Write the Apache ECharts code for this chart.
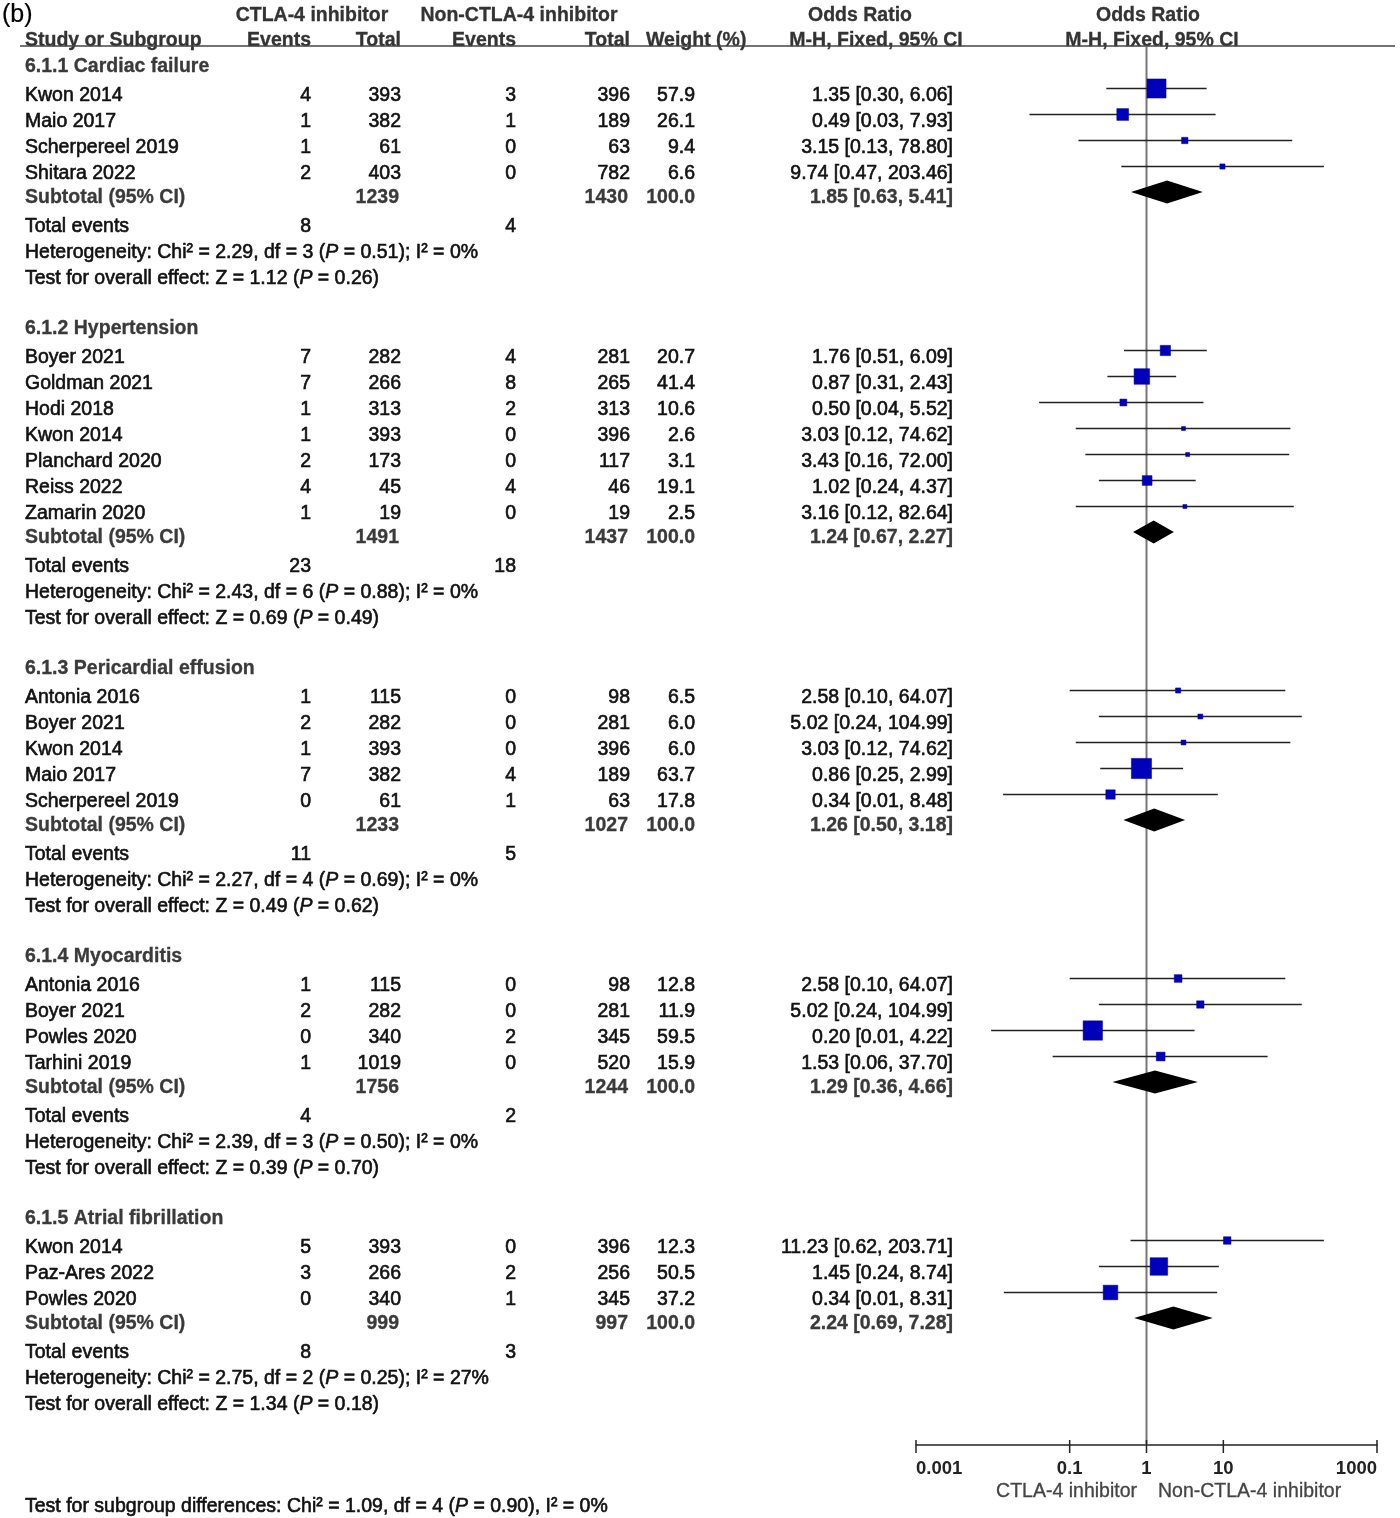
<!DOCTYPE html>
<html>
<head>
<meta charset="utf-8">
<script src="https://cdn.jsdelivr.net/npm/echarts@6/dist/echarts.min.js"></script>
<style>html,body{margin:0;padding:0;background:#fff}#c{width:1400px;height:1518px}</style>
</head>
<body>
<div id="c"></div>
<script>
// ---------------- DATA ----------------
const subgroupNames = ['6.1.1 Cardiac failure', '6.1.2 Hypertension', '6.1.3 Pericardial effusion', '6.1.4 Myocarditis', '6.1.5 Atrial fibrillation'];

const studyNames = [
  'Kwon 2014', 'Maio 2017', 'Scherpereel 2019', 'Shitara 2022',
  'Boyer 2021', 'Goldman 2021', 'Hodi 2018', 'Kwon 2014', 'Planchard 2020', 'Reiss 2022', 'Zamarin 2020',
  'Antonia 2016', 'Boyer 2021', 'Kwon 2014', 'Maio 2017', 'Scherpereel 2019',
  'Antonia 2016', 'Boyer 2021', 'Powles 2020', 'Tarhini 2019',
  'Kwon 2014', 'Paz-Ares 2022', 'Powles 2020'
];
const studyGroup  = [0,0,0,0, 1,1,1,1,1,1,1, 2,2,2,2,2, 3,3,3,3, 4,4,4];
const ctlaEvents  = [4,1,1,2, 7,7,1,1,2,4,1, 1,2,1,7,0, 1,2,0,1, 5,3,0];
const ctlaTotal   = [393,382,61,403, 282,266,313,393,173,45,19, 115,282,393,382,61, 115,282,340,1019, 393,266,340];
const nonEvents   = [3,1,0,0, 4,8,2,0,0,4,0, 0,0,0,4,1, 0,0,2,0, 0,2,1];
const nonTotal    = [396,189,63,782, 281,265,313,396,117,46,19, 98,281,396,189,63, 98,281,345,520, 396,256,345];
const weights     = [57.9,26.1,9.4,6.6, 20.7,41.4,10.6,2.6,3.1,19.1,2.5, 6.5,6.0,6.0,63.7,17.8, 12.8,11.9,59.5,15.9, 12.3,50.5,37.2];
const oddsRatio   = [1.35,0.49,3.15,9.74, 1.76,0.87,0.50,3.03,3.43,1.02,3.16, 2.58,5.02,3.03,0.86,0.34, 2.58,5.02,0.20,1.53, 11.23,1.45,0.34];
const ciLow       = [0.30,0.03,0.13,0.47, 0.51,0.31,0.04,0.12,0.16,0.24,0.12, 0.10,0.24,0.12,0.25,0.0136, 0.10,0.24,0.0095,0.06, 0.62,0.24,0.0139];
const ciHigh      = [6.06,7.93,78.80,203.46, 6.09,2.43,5.52,74.62,72.00,4.37,82.64, 64.07,104.99,74.62,2.99,8.48, 64.07,104.99,4.22,37.70, 203.71,8.74,8.31];

const subCtlaTotal   = [1239, 1491, 1233, 1756, 999];
const subNonTotal    = [1430, 1437, 1027, 1244, 997];
const subOR          = [1.85, 1.24, 1.26, 1.29, 2.24];
const subLow         = [0.63, 0.67, 0.50, 0.36, 0.69];
const subHigh        = [5.41, 2.27, 3.18, 4.66, 7.28];
const totEventsCtla  = [8, 23, 11, 4, 8];
const totEventsNon   = [4, 18, 5, 2, 3];
const hetChi2        = ['2.29', '2.43', '2.27', '2.39', '2.75'];
const hetDf          = [3, 6, 4, 3, 2];
const hetP           = ['0.51', '0.88', '0.69', '0.50', '0.25'];
const hetI2          = [0, 0, 0, 0, 27];
const zValue         = ['1.12', '0.69', '0.49', '0.39', '1.34'];
const zP             = ['0.26', '0.49', '0.62', '0.70', '0.18'];

const diffChi2 = '1.09', diffDf = 4, diffP = '0.90', diffI2 = 0;

const tickValues = [0.001, 0.1, 1, 10, 1000];
const tickLabels = ['0.001', '0.1', '1', '10', '1000'];

// ---------------- LAYOUT ----------------
const FONT = '"Liberation Sans", Arial, Helvetica, sans-serif';
const FS = 19.5;
const SY = 1.08;
const AXIS_Y = 1445;
const COL = { name: 25, ev1: 311, tot1: 401, ev2: 516, tot2: 630, wt: 695, or: 953 };

const graphics = [];
function txt(x, y, text, o) {
  o = o || {};
  const align = o.align || 'left';
  const color = o.color || '#111';
  graphics.push({
    type: 'text', x: x, y: y, scaleY: o.sy || SY, silent: true,
    style: {
      text: text, fontSize: o.fs || FS, fontFamily: FONT, fontWeight: o.bold ? 'bold' : 'normal',
      fill: color, stroke: color, lineWidth: o.sw != null ? o.sw : (o.bold ? 0.3 : 0.6),
      align: align, textAlign: align,
      verticalAlign: 'middle', textVerticalAlign: 'middle',
      rich: { i: { fontStyle: 'italic', fontSize: o.fs || FS, fontFamily: FONT, fill: color } }
    }
  });
}
const fmt2 = v => v.toFixed(2);
const orText = (o, l, h) => fmt2(o) + ' [' + fmt2(l) + ', ' + fmt2(h) + ']';

// header
txt(2, 15, '(b)', { fs: 25, color: '#000', sy: 1, sw: 0.2 });
txt(312, 15, 'CTLA-4 inhibitor', { align: 'center', bold: true, color: '#333' });
txt(519, 15, 'Non-CTLA-4 inhibitor', { align: 'center', bold: true, color: '#333' });
txt(860, 15, 'Odds Ratio', { align: 'center', bold: true, color: '#333' });
txt(1148, 15, 'Odds Ratio', { align: 'center', bold: true, color: '#333' });
txt(COL.name, 40, 'Study or Subgroup', { bold: true, color: '#333' });
txt(COL.ev1, 40, 'Events', { align: 'right', bold: true, color: '#333' });
txt(COL.tot1, 40, 'Total', { align: 'right', bold: true, color: '#333' });
txt(COL.ev2, 40, 'Events', { align: 'right', bold: true, color: '#333' });
txt(COL.tot2, 40, 'Total', { align: 'right', bold: true, color: '#333' });
txt(646, 40, 'Weight (%)', { bold: true, color: '#333' });
txt(876, 40, 'M-H, Fixed, 95% CI', { align: 'center', bold: true, color: '#333' });
txt(1152, 40, 'M-H, Fixed, 95% CI', { align: 'center', bold: true, color: '#333' });
graphics.push({ type: 'line', silent: true, shape: { x1: 20, y1: 46, x2: 1395, y2: 46 }, style: { stroke: '#444', lineWidth: 1.5 } });

const studyData = [];
const diamondData = [];
let yCur = 66;
subgroupNames.forEach((g, gi) => {
  txt(COL.name, yCur, g, { bold: true, color: '#3a3a3a' });
  let k = 0;
  studyNames.forEach((s, si) => {
    if (studyGroup[si] !== gi) return;
    const y = yCur + 29 + 26 * k;
    txt(COL.name, y, s);
    txt(COL.ev1, y, String(ctlaEvents[si]), { align: 'right' });
    txt(COL.tot1, y, String(ctlaTotal[si]), { align: 'right' });
    txt(COL.ev2, y, String(nonEvents[si]), { align: 'right' });
    txt(COL.tot2, y, String(nonTotal[si]), { align: 'right' });
    txt(COL.wt, y, weights[si].toFixed(1), { align: 'right' });
    txt(COL.or, y, orText(oddsRatio[si], ciLow[si], ciHigh[si]), { align: 'right' });
    studyData.push([oddsRatio[si], ciLow[si], ciHigh[si], weights[si], y - 6.5]);
    k++;
  });
  const ySub = yCur + 27 + 26 * k;
  const bc = { bold: true, color: '#3a3a3a' };
  txt(COL.name, ySub, 'Subtotal (95% CI)', bc);
  txt(COL.tot1 - 2, ySub, String(subCtlaTotal[gi]), Object.assign({ align: 'right' }, bc));
  txt(COL.tot2 - 2, ySub, String(subNonTotal[gi]), Object.assign({ align: 'right' }, bc));
  txt(COL.wt, ySub, '100.0', Object.assign({ align: 'right' }, bc));
  txt(COL.or, ySub, orText(subOR[gi], subLow[gi], subHigh[gi]), Object.assign({ align: 'right' }, bc));
  diamondData.push([subOR[gi], subLow[gi], subHigh[gi], ySub - 5]);
  const yTot = ySub + 29;
  txt(COL.name, yTot, 'Total events');
  txt(COL.ev1, yTot, String(totEventsCtla[gi]), { align: 'right' });
  txt(COL.ev2, yTot, String(totEventsNon[gi]), { align: 'right' });
  const yHet = yTot + 26;
  txt(COL.name, yHet, 'Heterogeneity: Chi\u00b2 = ' + hetChi2[gi] + ', df = ' + hetDf[gi] + ' ({i|P} = ' + hetP[gi] + '); I\u00b2 = ' + hetI2[gi] + '%');
  const yTest = yHet + 26;
  txt(COL.name, yTest, 'Test for overall effect: Z = ' + zValue[gi] + ' ({i|P} = ' + zP[gi] + ')');
  yCur = yTest + 50;
});

txt(1137, 1491, 'CTLA-4 inhibitor', { align: 'right', color: '#444', sw: 0.3 });
txt(1158, 1491, 'Non-CTLA-4 inhibitor', { color: '#444', sw: 0.3 });
txt(COL.name, 1506, 'Test for subgroup differences: Chi\u00b2 = ' + diffChi2 + ', df = ' + diffDf + ' ({i|P} = ' + diffP + '), I\u00b2 = ' + diffI2 + '%');

// ---------------- CHART ----------------
const chart = echarts.init(document.getElementById('c'), null, { renderer: 'canvas' });
chart.setOption({
  animation: false,
  backgroundColor: '#fff',
  grid: { left: 916, top: 0, width: 461, height: AXIS_Y, containLabel: false },
  xAxis: {
    type: 'log', logBase: 10, min: 0.001, max: 1000, splitNumber: 6, position: 'bottom',
    axisLine: { show: true, onZero: false, lineStyle: { color: '#222', width: 1.5 } },
    axisTick: { show: false },
    splitLine: { show: false },
    axisLabel: {
      show: true, margin: 14, fontSize: 18.5, fontWeight: 'bold', color: '#222', fontFamily: FONT,
      showMinLabel: true, showMaxLabel: true, alignMinLabel: 'left', alignMaxLabel: 'right',
      formatter: function (v) {
        for (let i = 0; i < tickValues.length; i++) {
          if (Math.abs(Math.log10(v) - Math.log10(tickValues[i])) < 1e-6) return tickLabels[i];
        }
        return '';
      }
    }
  },
  yAxis: { type: 'value', min: 0, max: AXIS_Y, inverse: true, show: false },
  graphic: graphics,
  series: [
    {
      type: 'custom', name: 'ref', clip: false, z: 1, silent: true,
      data: [[1, 47, AXIS_Y]],
      encode: { x: 0, y: [1, 2] },
      renderItem: function (params, api) {
        const a = api.coord([api.value(0), api.value(1)]);
        const b = api.coord([api.value(0), api.value(2)]);
        return { type: 'line', shape: { x1: a[0], y1: a[1], x2: b[0], y2: b[1] }, style: { stroke: '#777', lineWidth: 2 } };
      }
    },
    {
      type: 'custom', name: 'ticks', clip: false, z: 3, silent: true,
      data: tickValues.map(v => [v, AXIS_Y]),
      encode: { x: 0, y: 1 },
      renderItem: function (params, api) {
        const p = api.coord([api.value(0), api.value(1)]);
        return { type: 'line', shape: { x1: p[0], y1: p[1] - 5, x2: p[0], y2: p[1] + 8 }, style: { stroke: '#222', lineWidth: 1.5 } };
      }
    },
    {
      type: 'custom', name: 'studies', clip: false, z: 2, silent: true,
      data: studyData,
      encode: { x: [0, 1, 2], y: 4 },
      renderItem: function (params, api) {
        const y = api.value(4);
        const p = api.coord([api.value(0), y]);
        const l = api.coord([api.value(1), y]);
        const h = api.coord([api.value(2), y]);
        const s = Math.max(4, 1.67 * Math.pow(api.value(3), 0.6));
        return {
          type: 'group', children: [
            { type: 'line', shape: { x1: l[0], y1: l[1], x2: h[0], y2: h[1] }, style: { stroke: '#222', lineWidth: 1.6 } },
            { type: 'rect', shape: { x: p[0] - s / 2, y: p[1] - s / 2, width: s, height: s }, style: { fill: '#0000bb', stroke: '#00009a', lineWidth: 0.5 } }
          ]
        };
      }
    },
    {
      type: 'custom', name: 'subtotals', clip: false, z: 2, silent: true,
      data: diamondData,
      encode: { x: [0, 1, 2], y: 3 },
      renderItem: function (params, api) {
        const y = api.value(3);
        const p = api.coord([api.value(0), y]);
        const l = api.coord([api.value(1), y]);
        const h = api.coord([api.value(2), y]);
        const hh = 11.5;
        return {
          type: 'polygon',
          shape: { points: [[l[0], l[1]], [p[0], p[1] - hh], [h[0], h[1]], [p[0], p[1] + hh]] },
          style: { fill: '#000' }
        };
      }
    }
  ]
});
</script>
</body>
</html>
